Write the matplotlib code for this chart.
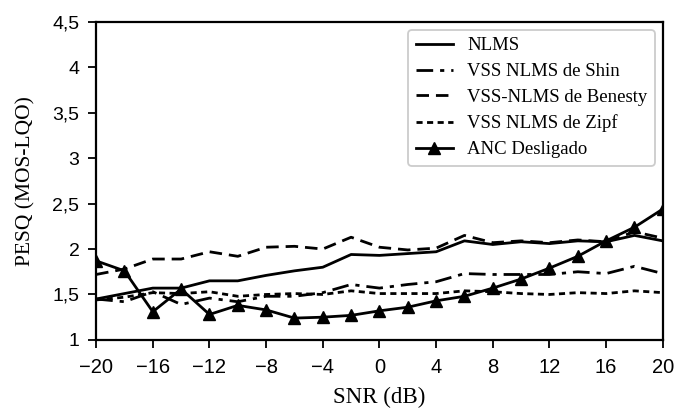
import matplotlib
matplotlib.use('Agg')
import matplotlib.pyplot as plt
from matplotlib.ticker import FuncFormatter

snr = [-20, -18, -16, -14, -12, -10, -8, -6, -4, -2, 0, 2, 4, 6, 8, 10, 12, 14, 16, 18, 20]

nlms = [1.45, 1.51, 1.57, 1.57, 1.65, 1.65, 1.71, 1.76, 1.80, 1.94, 1.93,
        1.95, 1.97, 2.09, 2.05, 2.08, 2.06, 2.09, 2.08, 2.15, 2.09]
shin = [1.45, 1.42, 1.53, 1.39, 1.46, 1.42, 1.48, 1.48, 1.52, 1.61, 1.57,
        1.61, 1.64, 1.73, 1.72, 1.72, 1.72, 1.75, 1.73, 1.81, 1.73]
benesty = [1.72, 1.78, 1.89, 1.89, 1.97, 1.92, 2.02, 2.03, 2.00, 2.13, 2.02,
           1.99, 2.01, 2.15, 2.07, 2.09, 2.07, 2.10, 2.08, 2.19, 2.12]
zipf = [1.44, 1.47, 1.52, 1.51, 1.53, 1.48, 1.50, 1.51, 1.50, 1.54, 1.51,
        1.51, 1.51, 1.54, 1.53, 1.51, 1.50, 1.52, 1.51, 1.54, 1.52]
anc_off = [1.87, 1.76, 1.31, 1.56, 1.28, 1.38, 1.33, 1.24, 1.25, 1.27, 1.32,
           1.36, 1.43, 1.48, 1.57, 1.67, 1.79, 1.92, 2.09, 2.24, 2.44]

fig = plt.figure(figsize=(6.77, 4.13), dpi=100)
ax = fig.add_axes([0.142, 0.177, 0.837, 0.770])

lw = 2.0
ax.plot(snr, nlms, color='black', lw=lw, ls='-', label='NLMS')
ax.plot(snr, shin, color='black', lw=lw, ls=(0, (6, 2.5, 1.5, 2.5)), label='VSS NLMS de Shin')
ax.plot(snr, benesty, color='black', lw=lw, ls=(0, (4.5, 2.5)), label='VSS-NLMS de Benesty')
ax.plot(snr, zipf, color='black', lw=lw, ls=(0, (2.2, 1.6)), label='VSS NLMS de Zipf')
ax.plot(snr, anc_off, color='black', lw=lw, marker='^', ms=8, label='ANC Desligado')

ax.set_xlim(-20, 20)
ax.set_ylim(1, 4.5)
ax.set_xticks(range(-20, 21, 4))
ax.set_yticks([1, 1.5, 2, 2.5, 3, 3.5, 4, 4.5])
ax.yaxis.set_major_formatter(FuncFormatter(lambda v, p: f'{v:g}'.replace('.', ',')))
ax.xaxis.set_major_formatter(FuncFormatter(lambda v, p: f'{int(v)}'.replace('-', '\u2212')))
ax.tick_params(direction='out', length=6, width=1.3)
ax.tick_params(axis='x', labelsize=14.5, pad=7)
ax.tick_params(axis='y', labelsize=14, pad=6)
for lab in ax.get_xticklabels() + ax.get_yticklabels():
    lab.set_family('Liberation Sans')
for s in ax.spines.values():
    s.set_linewidth(1.6)

ax.set_xlabel('SNR (dB)', family='Liberation Serif', fontsize=16.5, labelpad=7)
ax.set_ylabel('PESQ (MOS-LQO)', family='Liberation Serif', fontsize=15.5, labelpad=12)

leg = ax.legend(loc='upper right', bbox_to_anchor=(0.986, 0.975), borderaxespad=0,
                prop={'family': 'Liberation Serif', 'size': 13.5},
                handlelength=2.0, fancybox=True, framealpha=1,
                edgecolor='#cccccc', borderpad=0.4, labelspacing=0.46,
                handletextpad=0.75)
leg.get_frame().set_linewidth(1.3)

fig.savefig('out.png', dpi=100)
